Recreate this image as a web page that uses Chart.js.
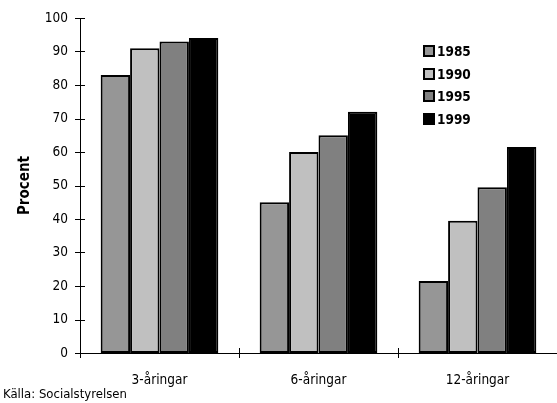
<!DOCTYPE html>
<html>
<head>
<meta charset="utf-8">
<script src="https://cdn.jsdelivr.net/npm/chart.js@4/dist/chart.umd.min.js"></script>
<style>
  html, body { margin: 0; padding: 0; background: #fff; }
  #wrap { width: 557px; height: 403px; }
</style>
</head>
<body>
<div id="wrap"><canvas id="c" width="557" height="403"></canvas></div>
<script>
// Andel barn (procent) per åldersgrupp och år
const categories = ['3-åringar', '6-åringar', '12-åringar'];
const years = ['1985', '1990', '1995', '1999'];
const values1985 = [83, 45, 21.5];
const values1990 = [91, 60, 39.5];
const values1995 = [93, 65, 49.5];
const values1999 = [94, 72, 61.5];
const yTicks = [0, 10, 20, 30, 40, 50, 60, 70, 80, 90, 100];
const sourceText = 'Källa: Socialstyrelsen';

const fillColors = ['#969696', '#c0c0c0', '#808080', '#000000'];
const FONT = '"DejaVu Sans Condensed", "DejaVu Sans", sans-serif';

const series = [values1985, values1990, values1995, values1999];

// Cross-shaped tick marks on both axes
const crossTicks = {
  id: 'crossTicks',
  afterDraw(chart) {
    const ctx = chart.ctx;
    const y = chart.scales.y, x = chart.scales.x;
    const half = (x.getPixelForValue(1) - x.getPixelForValue(0)) / 2;
    ctx.save();
    ctx.strokeStyle = '#000';
    ctx.lineWidth = 1;
    ctx.beginPath();
    yTicks.forEach(v => {
      const py = Math.round(y.getPixelForValue(v)) + 0.5;
      ctx.moveTo(x.left - 5, py);
      ctx.lineTo(x.left + 5, py);
    });
    for (let i = 0; i < categories.length; i++) {
      const px = Math.round(x.getPixelForValue(i) - half) + 0.5;
      const top = i === 0 ? y.bottom : y.bottom - 5;
      ctx.moveTo(px, top);
      ctx.lineTo(px, y.bottom + 5);
    }
    ctx.stroke();
    ctx.restore();
  }
};

// Legend inside the plot area, built from the datasets, plus the source line
const innerLegend = {
  id: 'innerLegend',
  afterDraw(chart) {
    const ctx = chart.ctx;
    const x0 = 423, y0 = 51, step = 22.6, box = 12;
    ctx.save();
    ctx.font = 'bold 13.5px ' + FONT;
    ctx.textBaseline = 'middle';
    chart.data.datasets.forEach((ds, i) => {
      const cy = Math.round(y0 + i * step);
      ctx.fillStyle = ds.backgroundColor;
      ctx.fillRect(x0, cy - box / 2, box, box);
      ctx.strokeStyle = '#000';
      ctx.lineWidth = 2;
      ctx.strokeRect(x0 + 1, cy - box / 2 + 1, box - 2, box - 2);
      ctx.fillStyle = '#000';
      ctx.fillText(ds.label, x0 + box + 2, cy + 1);
    });
    ctx.font = '13px ' + FONT;
    ctx.textBaseline = 'alphabetic';
    ctx.fillText(sourceText, 3, 398);
    ctx.restore();
  }
};

new Chart(document.getElementById('c'), {
  type: 'bar',
  data: {
    labels: categories,
    datasets: years.map((yr, i) => ({
      label: yr,
      data: series[i],
      backgroundColor: fillColors[i],
      borderColor: '#000',
      borderWidth: 2,
      borderSkipped: false
    }))
  },
  options: {
    responsive: false,
    animation: false,
    devicePixelRatio: 1,
    layout: { padding: { top: 18, right: 0, left: 0, bottom: 0 } },
    datasets: { bar: { categoryPercentage: 0.74, barPercentage: 1.0 } },
    plugins: {
      legend: { display: false },
      tooltip: { enabled: false }
    },
    scales: {
      x: {
        grid: { display: false },
        border: { display: true, color: '#000', width: 1 },
        ticks: { color: '#000', font: { family: FONT, size: 13.5 }, padding: 11 },
        afterFit(s) { s.height = 50; }
      },
      y: {
        min: 0, max: 100,
        afterBuildTicks(s) { s.ticks = yTicks.map(v => ({ value: v })); },
        grid: { display: false },
        border: { display: true, color: '#000', width: 1 },
        ticks: { color: '#000', font: { family: FONT, size: 13.5 }, padding: 4 },
        title: {
          display: true, text: 'Procent', color: '#000',
          font: { family: FONT, size: 15, weight: 'bold' },
          padding: { top: 16, bottom: 0 }
        },
        afterFit(s) { s.width = 80; }
      }
    }
  },
  plugins: [crossTicks, innerLegend]
});
</script>
</body>
</html>
